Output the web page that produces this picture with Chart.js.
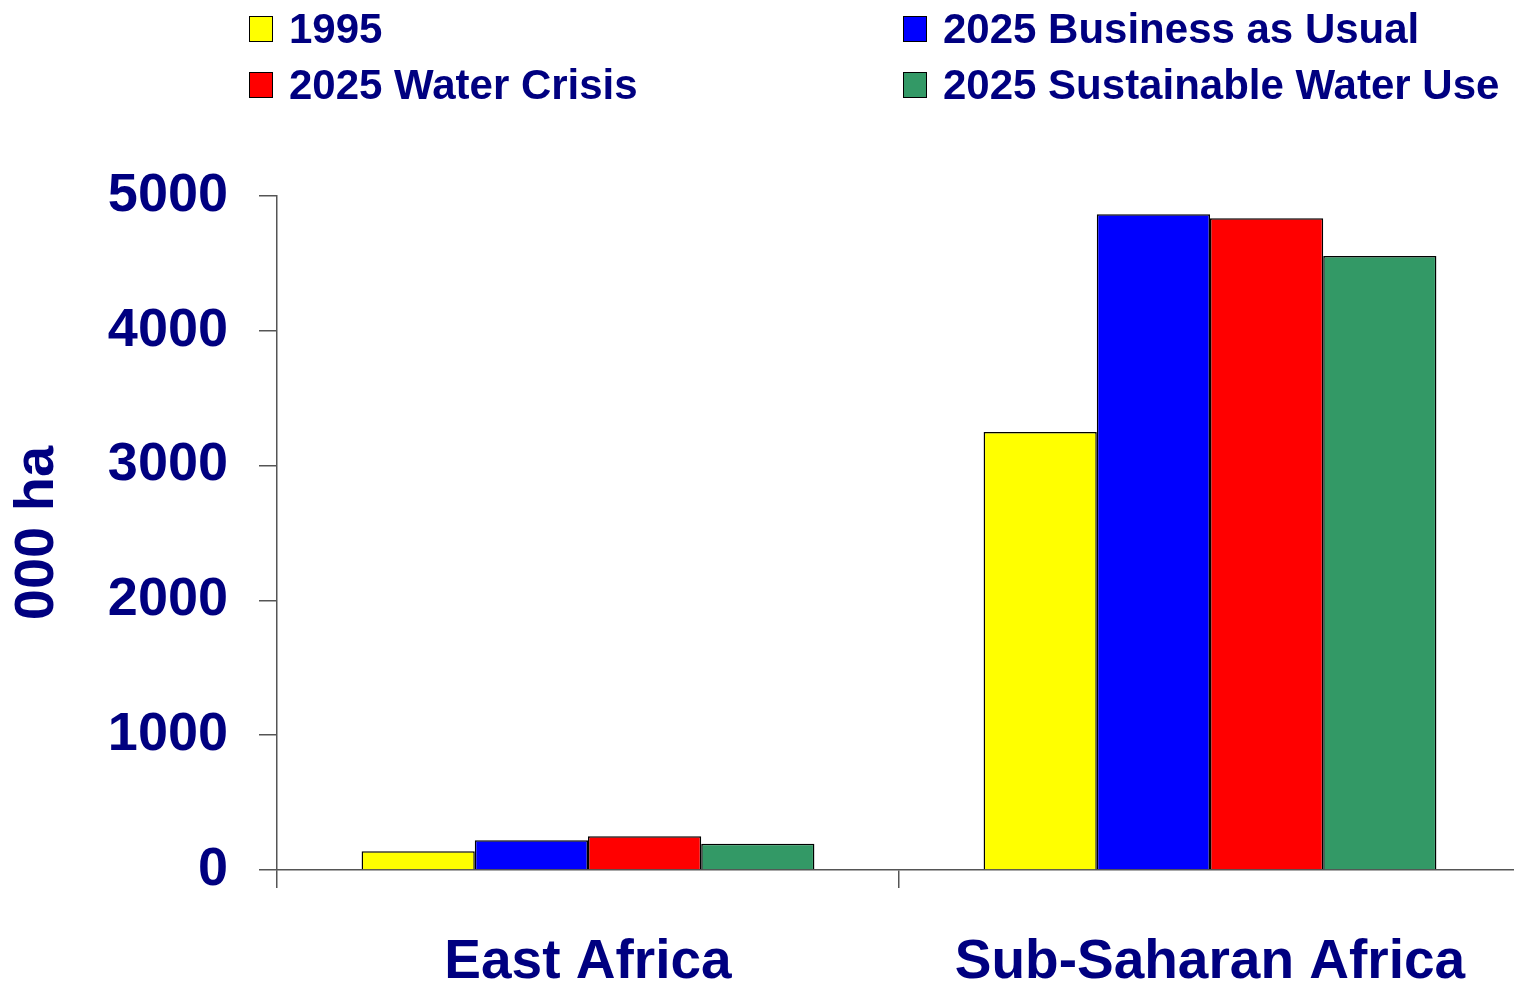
<!DOCTYPE html>
<html>
<head>
<meta charset="utf-8">
<script src="https://cdn.jsdelivr.net/npm/chart.js@4"></script>
<style>
  html, body { margin: 0; padding: 0; background: #fff; overflow: hidden; }
  #wrap { width: 1514px; height: 985px; overflow: hidden; }
</style>
</head>
<body>
<div id="wrap"><canvas id="irrigated" width="1521" height="985"></canvas></div>
<script>
const regions = ['East Africa', 'Sub-Saharan Africa'];
const seriesNames = ['1995', '2025 Business as Usual', '2025 Water Crisis', '2025 Sustainable Water Use'];
const values1995 = [140, 3250];
const valuesBAU = [220, 4865];
const valuesCrisis = [250, 4835];
const valuesSustainable = [195, 4555];
const yTicks = [0, 1000, 2000, 3000, 4000, 5000];

const navy = '#000080';
const fontFamily = '"Liberation Sans", Arial, sans-serif';
const seriesColors = ['#ffff00', '#0000ff', '#ff0000', '#339966'];
const seriesValues = [values1995, valuesBAU, valuesCrisis, valuesSustainable];

// legend in two columns, drawn on top of the canvas
const twoColLegend = {
  id: 'twoColLegend',
  afterDraw(chart) {
    const ctx = chart.ctx;
    const colX = [249, 903];
    const baseY = [43, 99];
    ctx.save();
    ctx.font = 'bold 42px ' + fontFamily;
    ctx.textBaseline = 'alphabetic';
    ctx.textAlign = 'left';
    chart.data.datasets.forEach((ds, i) => {
      const x = colX[i % 2];
      const y = baseY[Math.floor(i / 2)];
      ctx.fillStyle = ds.backgroundColor;
      ctx.fillRect(x, y - 27, 24, 26);
      ctx.strokeStyle = '#000';
      ctx.lineWidth = 1;
      ctx.strokeRect(x + 0.5, y - 26.5, 23, 25);
      ctx.fillStyle = navy;
      ctx.fillText(ds.label, x + 40, y);
    });
    ctx.restore();
  }
};

new Chart(document.getElementById('irrigated'), {
  type: 'bar',
  data: {
    labels: regions,
    datasets: seriesNames.map((name, i) => ({
      label: name,
      data: seriesValues[i],
      backgroundColor: seriesColors[i],
      borderColor: '#000',
      borderWidth: 1.5,
      borderSkipped: 'bottom',
      barPercentage: 1.0,
      categoryPercentage: 0.728
    }))
  },
  options: {
    responsive: false,
    animation: false,
    layout: { padding: { top: 196, right: 0, bottom: 0, left: 0 } },
    plugins: {
      legend: { display: false },
      tooltip: { enabled: false }
    },
    scales: {
      x: {
        afterFit(scale) { scale.height = 115; },
        grid: {
          offset: true,
          drawOnChartArea: false,
          drawTicks: true,
          tickLength: 18,
          color: '#555',
          lineWidth: 1.5
        },
        border: { color: '#555', width: 1.5 },
        ticks: {
          color: navy,
          padding: 42,
          font: { family: fontFamily, size: 55, weight: 'bold' }
        }
      },
      y: {
        min: 0,
        max: 5000,
        afterFit(scale) { scale.width = 277; },
        afterBuildTicks(scale) { scale.ticks = yTicks.map(v => ({ value: v })); },
        grid: {
          drawOnChartArea: false,
          drawTicks: true,
          tickLength: 18,
          color: '#555',
          lineWidth: 1.5
        },
        border: { color: '#555', width: 1.5 },
        ticks: {
          color: navy,
          padding: 31,
          callback: v => String(v),
          font: { family: fontFamily, size: 54, weight: 'bold' }
        },
        title: {
          display: true,
          text: '000 ha',
          color: navy,
          padding: { top: 4, bottom: 0 },
          font: { family: fontFamily, size: 56, weight: 'bold' }
        }
      }
    }
  },
  plugins: [twoColLegend]
});
</script>
</body>
</html>
